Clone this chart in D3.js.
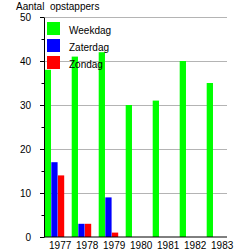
<!DOCTYPE html>
<html>
<head>
<meta charset="utf-8">
<script src="https://cdn.jsdelivr.net/npm/d3@7"></script>
<style>
body { margin: 0; background: #fff; }
text { font-family: "Liberation Sans", Arial, sans-serif; font-size: 10px; fill: #000; }
</style>
</head>
<body>
<div id="main"></div>
<script>
// chart data
var years = ["1977", "1978", "1979", "1980", "1981", "1982", "1983"];
var seriesNames = ["Weekdag", "Zaterdag", "Zondag"];
var weekdag = [38, 41, 42, 30, 31, 40, 35];
var zaterdag = [17, 3, 9, 0, 0, 0, 0];
var zondag = [14, 3, 1, 0, 0, 0, 0];
var yTicks = [0, 10, 20, 30, 40, 50];
var yMinorTicks = [5, 15, 25, 35, 45];
var colors = ["#00ff00", "#0000ff", "#ff0000"];

// set the dimensions and margins of the graph
var padding = { top: 17, right: 19, bottom: 13, left: 44 };
var chartWidth = 246 - padding.left - padding.right;
var chartHeight = 250 - padding.top - padding.bottom;

var root = d3.select("#main")
    .append("svg")
    .attr("width", 246)
    .attr("height", 250);

var svg = root.append("g")
    .attr("transform", "translate(" + padding.left + "," + padding.top + ")");

// y axis title
root.append("text")
    .attr("x", 16)
    .attr("y", 10)
    .style("white-space", "pre")
    .text("Aantal  opstappers");

var yScale = d3.scaleLinear()
    .domain([0, 50])
    .range([chartHeight, 0]);

var xScale = d3.scaleBand()
    .domain(years)
    .range([0.7, 0.7 + 27 * years.length]);

var xSub = d3.scaleBand()
    .domain(seriesNames)
    .range([0, 19.5])
    .paddingInner(0.05);

// grid lines
svg.append("g")
    .selectAll("line")
    .data(yTicks.slice(1))
    .enter().append("line")
    .attr("x1", 0)
    .attr("x2", chartWidth)
    .attr("y1", function (d) { return yScale(d); })
    .attr("y2", function (d) { return yScale(d); })
    .attr("stroke", "#b4b4b4")
    .attr("stroke-width", 1)
    .attr("shape-rendering", "crispEdges");

// bars, one group per year
var rows = years.map(function (y, i) {
    return { year: y, values: [weekdag[i], zaterdag[i], zondag[i]] };
});

var groups = svg.selectAll(".year")
    .data(rows)
    .enter().append("g")
    .attr("class", "year")
    .attr("transform", function (d) { return "translate(" + xScale(d.year) + ",0)"; });

groups.selectAll("rect")
    .data(function (d) {
        return d.values.map(function (v, k) { return { key: seriesNames[k], value: v, color: colors[k] }; })
            .filter(function (b) { return b.value > 0; });
    })
    .enter().append("rect")
    .attr("x", function (d) { return xSub(d.key); })
    .attr("width", xSub.bandwidth())
    .attr("y", function (d) { return yScale(d.value); })
    .attr("height", function (d) { return chartHeight - yScale(d.value); })
    .style("fill", function (d) { return d.color; });

// y axis with minor ticks
svg.append("g")
    .attr("class", "y-minor")
    .call(d3.axisLeft(yScale).tickValues(yMinorTicks).tickSize(2.5).tickSizeOuter(0).tickFormat(""))
    .call(function (g) { g.select(".domain").remove(); });

var yAxis = svg.append("g")
    .call(d3.axisLeft(yScale).tickValues(yTicks).tickSize(4).tickSizeOuter(0).tickPadding(9));
yAxis.selectAll("text").style("font-size", "10px").style("font-family", null);
yAxis.attr("font-family", null).attr("font-size", null);
svg.selectAll(".tick line").attr("stroke", "#000");

// x axis line
svg.append("line")
    .attr("x1", 0)
    .attr("x2", chartWidth)
    .attr("y1", chartHeight)
    .attr("y2", chartHeight)
    .attr("stroke", "#000")
    .attr("stroke-width", 1);

// x labels
svg.append("g")
    .selectAll("text")
    .data(years)
    .enter().append("text")
    .attr("x", function (d) { return xScale(d) + 15.5; })
    .attr("y", chartHeight + 11.5)
    .attr("text-anchor", "middle")
    .text(function (d) { return d; });

// legend
var legend = svg.append("g")
    .attr("transform", "translate(3,5)");

var items = legend.selectAll("g")
    .data(seriesNames)
    .enter().append("g")
    .attr("transform", function (d, i) { return "translate(0," + (i * 17) + ")"; });

items.append("rect")
    .attr("width", 13)
    .attr("height", 13)
    .style("fill", function (d, i) { return colors[i]; });

items.append("text")
    .attr("x", 22)
    .attr("y", 12)
    .text(function (d) { return d; });
</script>
</body>
</html>
